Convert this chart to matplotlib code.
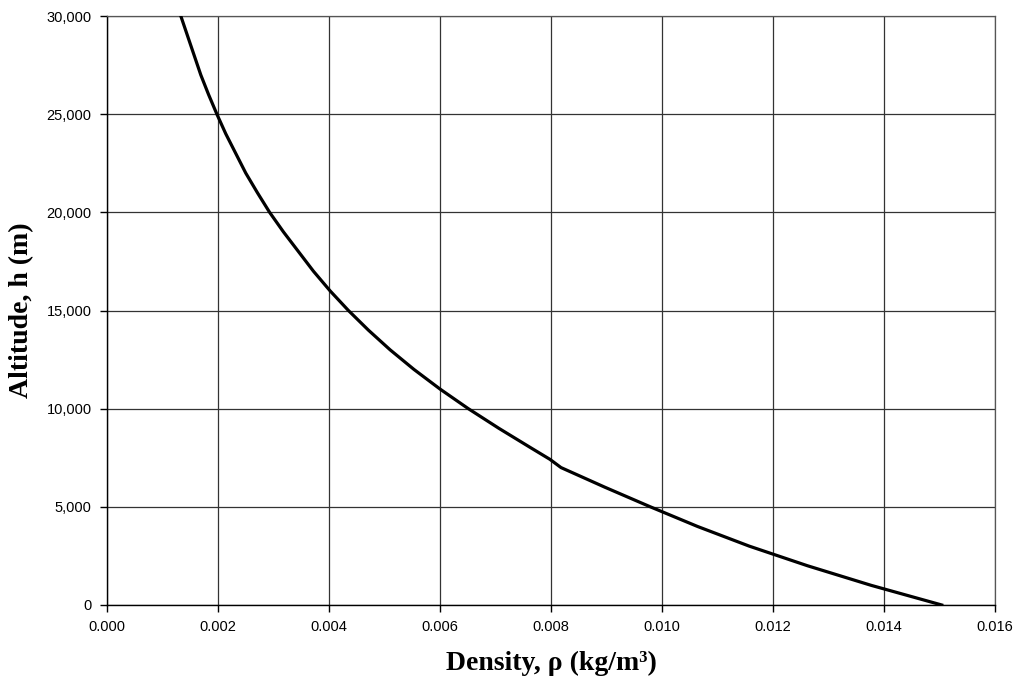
import numpy as np
import matplotlib.pyplot as plt
from matplotlib.ticker import FuncFormatter, MultipleLocator

# altitude (m) and density (kg/m^3)
altitude = [0, 1000, 2000, 3000, 4000, 5000, 6000, 7000, 7420, 8000, 9000,
            10000, 11000, 12000, 13000, 14000, 15000, 16000, 17000, 18000,
            19000, 20000, 21000, 22000, 23000, 24000, 25000, 26000, 27000,
            28000, 29000, 30000]
density = [0.01504, 0.01377, 0.01262, 0.01157, 0.01064, 0.00979, 0.00897, 0.00818,
           0.00798, 0.00764, 0.00706, 0.00651, 0.00600, 0.00553, 0.00510, 0.00471,
           0.00435, 0.00402, 0.00372, 0.00345, 0.00318, 0.00293, 0.00271, 0.00250,
           0.00232, 0.00214, 0.00198, 0.00183, 0.00169, 0.00157, 0.00145, 0.00133]

plt.rcParams['font.family'] = 'Liberation Sans'
plt.rcParams['font.size'] = 10.5

fig = plt.figure(figsize=(10.22, 6.85), dpi=100)
ax = fig.add_axes([0.1047, 0.1168, 0.8689, 0.8598])

ax.plot(density, altitude, color='black', linewidth=2.3, zorder=3)

ax.set_xlim(0, 0.016)
ax.set_ylim(0, 30000)
ax.xaxis.set_major_locator(MultipleLocator(0.002))
ax.yaxis.set_major_locator(MultipleLocator(5000))
ax.xaxis.set_major_formatter(FuncFormatter(lambda v, p: '%.3f' % v))
ax.yaxis.set_major_formatter(FuncFormatter(lambda v, p: '{:,.0f}'.format(v)))

ax.grid(True, color='#333333', linewidth=0.9)
ax.set_axisbelow(True)
for side in ['top', 'right']:
    ax.spines[side].set_color('#555555')
    ax.spines[side].set_linewidth(0.9)
for side in ['left', 'bottom']:
    ax.spines[side].set_color('black')
    ax.spines[side].set_linewidth(1.0)
ax.tick_params(direction='out', length=5, width=1, color='black', pad=6)

ax.set_xlabel('Density, ρ (kg/m³)', family='Liberation Serif', fontweight='bold',
              fontsize=20, labelpad=12)
ax.set_ylabel('Altitude, h (m)', family='Liberation Serif', fontweight='bold',
              fontsize=20, labelpad=9)

fig.savefig('out.png', dpi=100)
